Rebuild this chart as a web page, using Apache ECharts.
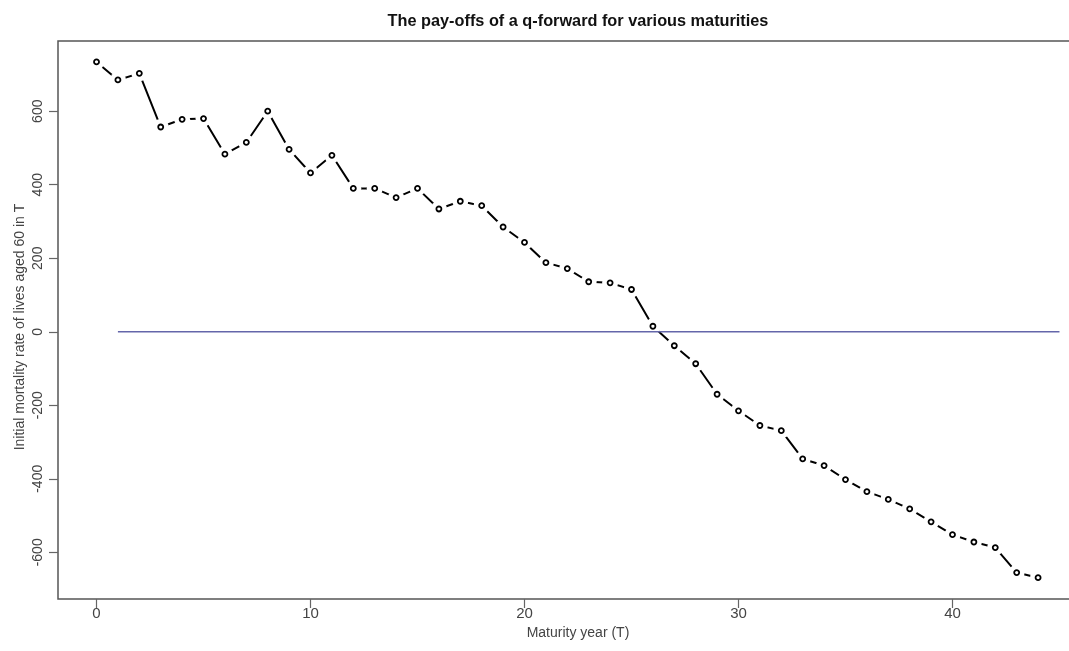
<!DOCTYPE html>
<html>
<head>
<meta charset="utf-8">
<title>q-forward pay-offs</title>
<script src="https://cdn.jsdelivr.net/npm/echarts@6/dist/echarts.min.js"></script>
<style>
  html, body { margin: 0; padding: 0; background: #fff; overflow: hidden; }
  #chart { width: 1100px; height: 651px; }
</style>
</head>
<body>
<div id="chart"></div>
<script>
// maturity years and pay-offs
const years = [0, 1, 2, 3, 4, 5, 6, 7, 8, 9, 10, 11, 12, 13, 14, 15, 16, 17, 18, 19, 20, 21,
  22, 23, 24, 25, 26, 27, 28, 29, 30, 31, 32, 33, 34, 35, 36, 37, 38, 39, 40, 41, 42, 43, 44]
const payoffs = [734, 685, 703, 557, 578, 580, 483, 515, 600, 496, 432, 480, 390, 390, 365,
  390, 334, 355, 343, 285, 243, 188, 172, 136, 133, 115, 15, -38, -87, -170, -215, -255,
  -269, -346, -364, -402, -435, -456, -482, -517, -552, -572, -587, -655, -669]

// zero reference line
const refYears = [1, 45]
const refValues = [0, 0]

const xTicks = [0, 10, 20, 30, 40]
const yTicks = [-600, -400, -200, 0, 200, 400, 600]

const points = years.map((t, i) => [t, payoffs[i]])
const refLine = refYears.map((t, i) => [t, refValues[i]])

const chart = echarts.init(document.getElementById('chart'))

const option = {
  animation: false,
  backgroundColor: '#fff',
  title: {
    text: 'The pay-offs of a q-forward for various maturities',
    left: 573,
    textAlign: 'center',
    top: 9,
    textStyle: {
      fontFamily: 'Liberation Sans, sans-serif',
      fontWeight: 'bold',
      fontSize: 16.3,
      color: '#111'
    }
  },
  grid: {
    left: 58,
    top: 41,
    width: 1040,
    bottom: 52,
    show: true,
    borderColor: '#555',
    borderWidth: 1.5,
    containLabel: false
  },
  xAxis: {
    type: 'value',
    min: -1.8,
    max: 46.8,
    name: 'Maturity year (T)',
    nameLocation: 'middle',
    nameGap: 27,
    nameTextStyle: {
      fontFamily: 'Liberation Sans, sans-serif',
      fontSize: 14,
      color: '#444'
    },
    axisLine: { show: false, onZero: false },
    splitLine: { show: false },
    axisTick: {
      show: true,
      length: 9,
      customValues: xTicks,
      lineStyle: { color: '#666', width: 1.2 }
    },
    axisLabel: {
      customValues: xTicks,
      margin: 7,
      fontFamily: 'Liberation Sans, sans-serif',
      fontSize: 15,
      color: '#444'
    }
  },
  yAxis: {
    type: 'value',
    min: -727,
    max: 791,
    name: 'Initial mortality rate of lives aged 60 in T',
    nameLocation: 'middle',
    nameGap: 31,
    nameMoveOverlap: false,
    nameTextStyle: {
      fontFamily: 'Liberation Sans, sans-serif',
      fontSize: 14,
      color: '#444',
      padding: [0, 14, 0, 0]
    },
    axisLine: { show: false, onZero: false },
    splitLine: { show: false },
    axisTick: {
      show: true,
      length: 9,
      customValues: yTicks,
      lineStyle: { color: '#666', width: 1.2 }
    },
    axisLabel: {
      customValues: yTicks,
      rotate: 90,
      margin: 13,
      fontFamily: 'Liberation Sans, sans-serif',
      fontSize: 14,
      color: '#444'
    }
  },
  series: [
    {
      name: 'payoff line',
      type: 'line',
      data: points,
      symbol: 'none',
      zlevel: 0,
      z: 1,
      lineStyle: { color: '#000', width: 2 }
    },
    {
      // white halos leave the gaps that type "b" plots have round each point
      name: 'gaps',
      type: 'scatter',
      data: points,
      symbol: 'circle',
      symbolSize: 16,
      silent: true,
      zlevel: 1,
      itemStyle: { color: '#fff', opacity: 1 }
    },
    {
      name: 'zero',
      type: 'line',
      data: refLine,
      symbol: 'none',
      zlevel: 2,
      lineStyle: { color: '#6466aa', width: 1.5 }
    },
    {
      name: 'payoffs',
      type: 'scatter',
      data: points,
      symbol: 'circle',
      symbolSize: 5,
      zlevel: 3,
      itemStyle: { color: '#fff', borderColor: '#000', borderWidth: 1.8, opacity: 1 }
    }
  ]
}

chart.setOption(option)
window.addEventListener('resize', () => chart.resize())
</script>
</body>
</html>
